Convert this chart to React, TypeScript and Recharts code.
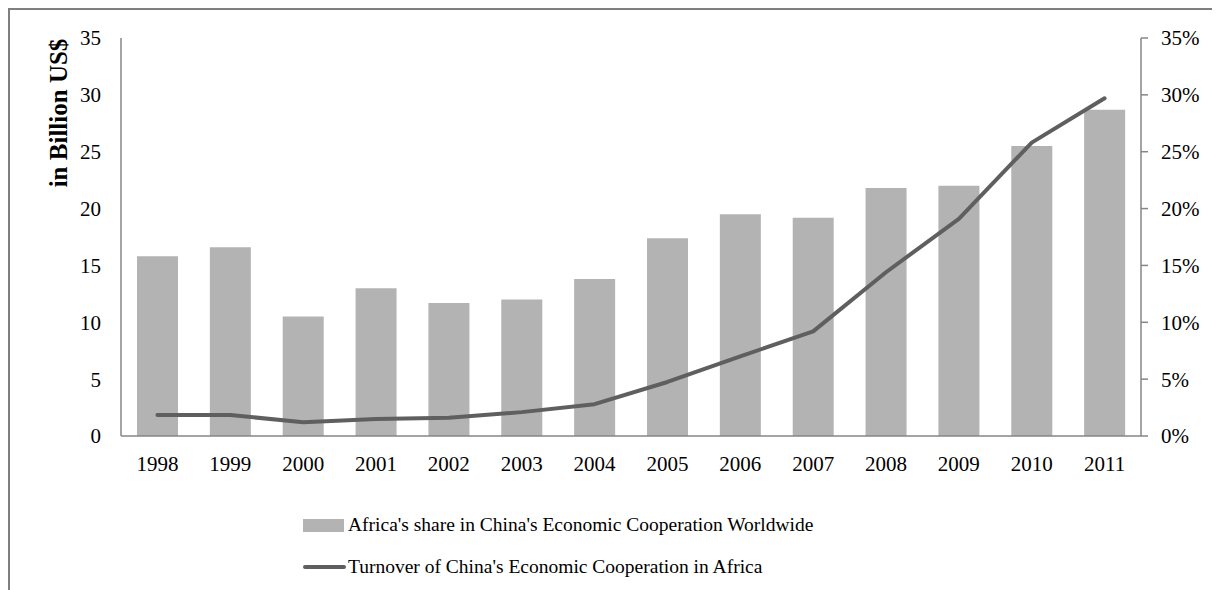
import React from 'react'
import { ComposedChart, Bar, Line, XAxis, YAxis } from 'recharts'

const years = ['1998', '1999', '2000', '2001', '2002', '2003', '2004', '2005', '2006', '2007', '2008', '2009', '2010', '2011']
// Africa's share in China's economic cooperation worldwide (%)
const sharePct = [15.8, 16.6, 10.5, 13.0, 11.7, 12.0, 13.8, 17.4, 19.5, 19.2, 21.8, 22.0, 25.5, 28.7]
// Turnover of China's economic cooperation in Africa (billion US$)
const turnover = [1.85, 1.85, 1.2, 1.5, 1.6, 2.1, 2.8, 4.75, 7.0, 9.2, 14.4, 19.1, 25.8, 29.7]
const leftTicks = [0, 5, 10, 15, 20, 25, 30, 35]
const rightTicks = [0, 5, 10, 15, 20, 25, 30, 35]

const shareLabel = "Africa's share in China's Economic Cooperation Worldwide"
const turnoverLabel = "Turnover of China's Economic Cooperation in Africa"

const data = years.map((y, i) => ({ year: y, share: sharePct[i], turnover: turnover[i] }))

const FONT = '"Liberation Serif", "Times New Roman", serif'
const BAR = '#b3b3b3'
const LINE = '#5f5f5f'
const AXIS = '#868686'

function YLabel({ viewBox }: any) {
    const x = viewBox.x + viewBox.width - 63
    const y = viewBox.y + 75
    return (
        <text
            x={x}
            y={y}
            transform={`rotate(-90, ${x}, ${y})`}
            textAnchor="middle"
            dominantBaseline="central"
            fontFamily={FONT}
            fontSize={25}
            fontWeight="bold"
            fill="#000"
        >
            in Billion US$
        </text>
    )
}

export default function App() {
    const tickStyle = { fontFamily: FONT, fontSize: 21, fill: '#000' }
    return (
        <div
            style={{
                position: 'relative',
                width: 1212,
                height: 582,
                borderTop: '2px solid #7f7f7f',
                borderLeft: '2px solid #7f7f7f',
                boxSizing: 'border-box',
                overflow: 'hidden',
                background: '#fff',
            }}
        >
            <div style={{ position: 'absolute', left: 0, top: 0 }}>
                <ComposedChart
                    width={1210}
                    height={580}
                    data={data}
                    margin={{ top: 28, right: 0, left: 0, bottom: 0 }}
                >
                    <XAxis
                        dataKey="year"
                        tickLine={false}
                        axisLine={{ stroke: AXIS, strokeWidth: 1.5 }}
                        tick={tickStyle}
                        tickMargin={14}
                        height={154}
                        interval={0}
                    />
                    <YAxis
                        yAxisId="left"
                        orientation="left"
                        domain={[0, 35]}
                        ticks={leftTicks}
                        width={111}
                        tickLine={false}
                        axisLine={{ stroke: AXIS, strokeWidth: 1.5 }}
                        tick={tickStyle}
                        tickMargin={14}
                        label={<YLabel />}
                    />
                    <YAxis
                        yAxisId="right"
                        orientation="right"
                        domain={[0, 35]}
                        ticks={rightTicks}
                        width={79}
                        tickSize={7}
                        tickLine={{ stroke: AXIS, strokeWidth: 1.5 }}
                        axisLine={{ stroke: AXIS, strokeWidth: 1.5 }}
                        tick={tickStyle}
                        tickMargin={13}
                        tickFormatter={(v: number) => `${v}%`}
                    />
                    <Bar
                        yAxisId="right"
                        dataKey="share"
                        fill={BAR}
                        barSize={41}
                        isAnimationActive={false}
                    />
                    <Line
                        yAxisId="left"
                        dataKey="turnover"
                        type="linear"
                        stroke={LINE}
                        strokeWidth={4}
                        strokeLinejoin="round"
                        strokeLinecap="round"
                        dot={false}
                        activeDot={false}
                        isAnimationActive={false}
                    />
                </ComposedChart>
            </div>

            {/* legend */}
            <div
                style={{
                    position: 'absolute',
                    left: 293,
                    top: 494,
                    fontFamily: FONT,
                    fontSize: 19.5,
                    color: '#000',
                    lineHeight: '42px',
                }}
            >
                <div style={{ display: 'flex', alignItems: 'center' }}>
                    <span style={{ display: 'inline-block', width: 41, height: 13, background: BAR, marginRight: 4 }} />
                    <span>{shareLabel}</span>
                </div>
                <div style={{ display: 'flex', alignItems: 'center' }}>
                    <span style={{ display: 'inline-block', width: 43, height: 4, background: LINE, borderRadius: 2, marginRight: 2 }} />
                    <span>{turnoverLabel}</span>
                </div>
            </div>
        </div>
    )
}
